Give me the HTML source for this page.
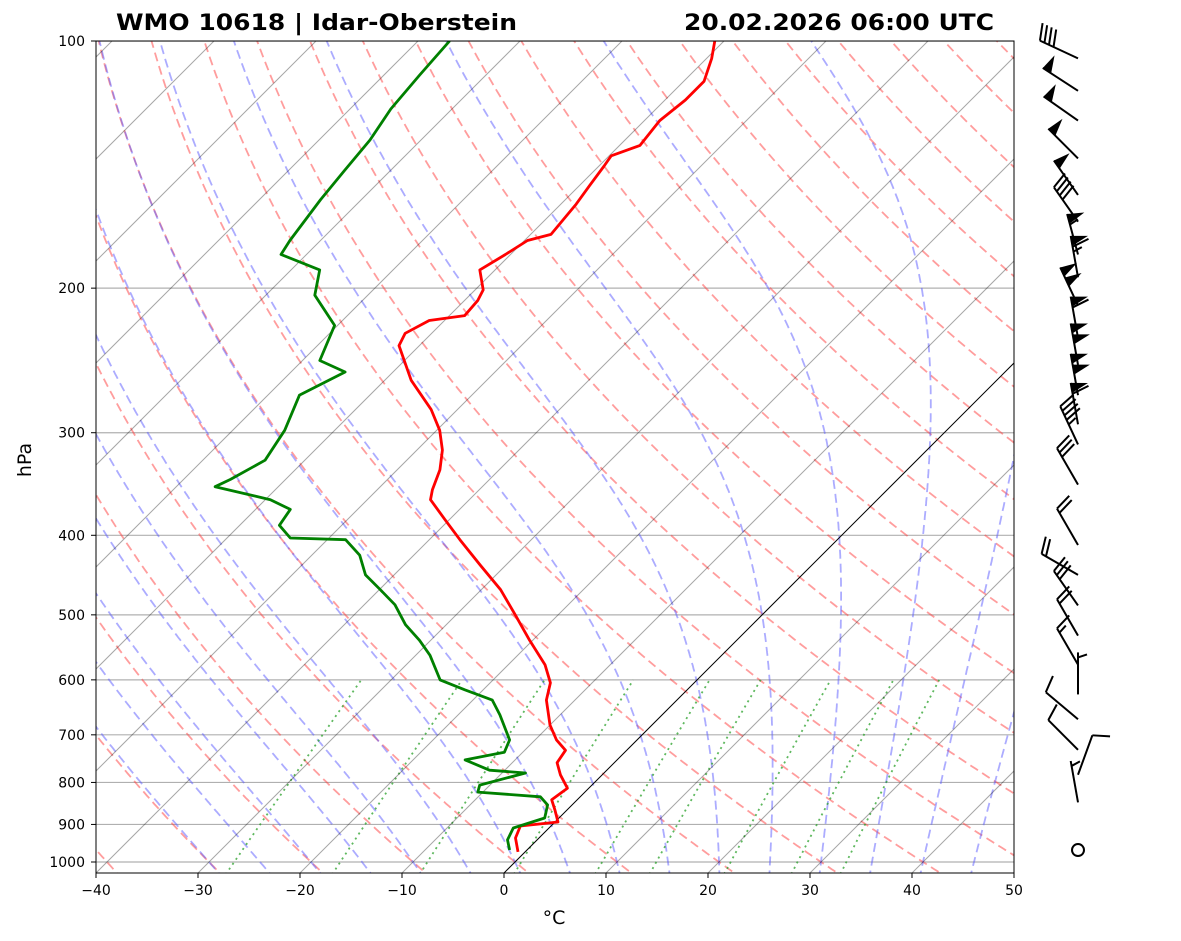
<!DOCTYPE html>
<html><head><meta charset="utf-8"><style>
body{margin:0;background:#fff;}
svg{display:block;font-family:"DejaVu Sans","Liberation Sans",sans-serif;}
</style></head><body>
<svg id="chart" width="1181" height="941" viewBox="0 0 1181 941" xmlns="http://www.w3.org/2000/svg">
<defs><clipPath id="clip"><rect x="96" y="41" width="918" height="832"/></clipPath></defs>
<rect width="1181" height="941" fill="#fff"/>
<text x="116" y="30" font-size="22" font-weight="bold" textLength="401" lengthAdjust="spacingAndGlyphs">WMO 10618 | Idar-Oberstein</text>
<text x="684" y="30" font-size="22" font-weight="bold" textLength="310" lengthAdjust="spacingAndGlyphs">20.02.2026 06:00 UTC</text>
<g id="bg" clip-path="url(#clip)"></g>
<g id="prof" clip-path="url(#clip)"></g>
<rect x="96" y="41" width="918" height="832" fill="none" stroke="#000" stroke-width="1"/>
<g id="axes"></g>
<g id="barbs"></g>
<text x="0" y="0" font-size="19" text-anchor="middle" transform="translate(31,460) rotate(-90)">hPa</text>
<text x="554" y="924" font-size="19" text-anchor="middle">°C</text>
</svg>
<script>
const tempP=[972,935,904,894,864,840,813,783,757,731,710,681,635,605,575,537,500,466,435,405,383,362,352,333,315,298,281,259,235,227,219,216,207,201,190,182,175,172,158,150,142,138,134,125,118,112,105,100];
const tempT=[-0.7,-2.3,-3.0,0.3,-1.2,-2.5,-2.1,-4.1,-5.6,-6.0,-7.9,-10,-12.8,-14.1,-16.4,-20.3,-24.2,-28.1,-32.5,-37,-40.4,-43.8,-44.6,-45.8,-47.5,-49.7,-52.6,-57.4,-62,-62.6,-61.5,-58.5,-58.7,-59.2,-61.5,-60.5,-59.7,-58,-58.5,-59,-59.5,-59.8,-58,-58.5,-58,-58,-59.5,-60.9];
const dewP=[967,940,909,884,852,833,822,806,779,773,751,735,710,662,635,617,600,560,537,514,486,466,447,423,405,403,389,372,362,349,342,324,298,270,253,245,222,204,190,182,175,156,144,132,121,110,100];
const dewT=[-1.7,-2.9,-3.5,-1.4,-2.4,-3.9,-10.5,-11,-7.7,-11.5,-14.9,-11.8,-12.5,-15.9,-18.1,-21.8,-25.2,-28.6,-31.1,-34,-37,-39.9,-42.8,-45.3,-48.2,-53.8,-56.1,-56.6,-59.5,-66.2,-65.4,-63.9,-64.9,-66.9,-64.7,-68.3,-70.3,-75.2,-77.2,-82.5,-83,-84,-84.5,-85,-86,-86.5,-86.9];
const barbP=[105,115,125,139,154,166,182,194,210,230,248,270,293,310,347,411,447,487,530,575,625,670,730,783,846,967];
const barbDir=[295,303,305,315,325,325,345,350,335,350,350,350,350,335,330,330,300,325,330,330,0,310,315,20,350,0];
const barbSpd=[40,50,50,50,50,40,55,65,100,60,100,100,60,45,30,20,20,30,20,15,5,10,10,10,5,0];
const pTicks=[100,200,300,400,500,600,700,800,900,1000];
const tTicks=[-40,-30,-20,-10,0,10,20,30,40,50];

const NS='http://www.w3.org/2000/svg';
function yP(p){return 41+Math.log10(p/100)*821;}
function xT(T,p){return 96+(T+40)*10.2+(873-yP(p));}
function mk(parent,tag,attrs){const e=document.createElementNS(NS,tag);for(const k in attrs)e.setAttribute(k,attrs[k]);parent.appendChild(e);return e;}
const bg=document.getElementById('bg'),prof=document.getElementById('prof'),axes=document.getElementById('axes'),barbs=document.getElementById('barbs');
function poly(parent,pts,stroke,w,dash,name){
  const e=mk(parent,'polyline',{points:pts.map(q=>q[0].toFixed(1)+','+q[1].toFixed(1)).join(' '),fill:'none',stroke:stroke,'stroke-width':w,'stroke-linejoin':'round'});
  if(dash)e.setAttribute('stroke-dasharray',dash);
  
  
  return e;
}
const plev=[];for(let p=1050;p>=95;p-=5)plev.push(p);
pTicks.forEach(p=>{const l=mk(bg,'line',{x1:96,x2:1014,y1:yP(p),y2:yP(p),stroke:'#b0b0b0','stroke-width':1.2});
});
for(let th=-40;th<=220;th+=10){const pts=plev.map(p=>[xT((th+273.15)*Math.pow(p/1000,0.2857)-273.15,p),yP(p)]);poly(bg,pts,'rgba(255,60,60,0.5)',1.8,'9,5','dry-adiabat');}
function es(T){return 6.112*Math.exp(17.67*T/(T+243.5));}
function dTdp(T,p){const Tk=T+273.15,r=0.622*es(T)/(p-es(T));return (287*Tk+2.501e6*r)/(1004+2.501e6*2.501e6*r*0.622/(287*Tk*Tk))/p;}
for(let T0=-30;T0<=45;T0+=5){
  const pts=[];let T=T0;
  let Td=T0;const dn=[];for(let p=1000;p<=1050;p+=5){dn.push([xT(Td,p),yP(p)]);Td+=dTdp(Td,p)*5;}
  dn.reverse();pts.push(...dn);
  for(let p=1000;p>=95;p-=2){pts.push([xT(T,p),yP(p)]);T-=dTdp(T,p)*2;}
  poly(bg,pts,'rgba(90,90,255,0.5)',1.8,'9,5','moist-adiabat');
}
[0.4,1,2,4,7,10,16,24,32].forEach(w=>{const pts=[];for(let p=1050;p>=600;p-=10){const e=w*p/(622+w),l=Math.log(e/6.112);const T=243.5*l/(17.67-l);pts.push([xT(T,p),yP(p)]);}
poly(bg,pts,'rgba(40,160,40,0.75)',1.8,'2,4','mixing-ratio-line');});
for(let T=-130;T<=50;T+=10){const l=mk(bg,'line',{x1:xT(T,1050),y1:yP(1050),x2:xT(T,95),y2:yP(95),stroke:T==0?'#000':'rgba(0,0,0,0.35)','stroke-width':1});
}
poly(prof,tempP.map((p,i)=>[xT(tempT[i],p),yP(p)]),'#f00',2.8,null,'temperature-profile');
poly(prof,dewP.map((p,i)=>[xT(dewT[i],p),yP(p)]),'#008000',2.8,null,'dewpoint-profile');
pTicks.forEach(p=>{const y=yP(p);mk(axes,'line',{x1:91,x2:96,y1:y,y2:y,stroke:'#000'});
const t=mk(axes,'text',{x:85,y:y+5,'font-size':14,'text-anchor':'end'});t.textContent=p;
});
tTicks.forEach(T=>{const x=96+(T+40)*10.2;mk(axes,'line',{x1:x,x2:x,y1:873,y2:878,stroke:'#000'});
const t=mk(axes,'text',{x:x,y:895,'font-size':14,'text-anchor':'middle'});t.textContent=(T<0?'\u2212'+(-T):T);
});
barbP.forEach((p,i)=>{
  const bx=1078,by=yP(p),s=barbSpd[i];
  const g=mk(barbs,'g',{});
  
  
  if(s<2.5){mk(g,'circle',{cx:bx,cy:by,r:6,fill:'none',stroke:'#000','stroke-width':2});return;}
  const a=barbDir[i]*Math.PI/180,dx=Math.sin(a),dy=-Math.cos(a),L=42;
  const tx=bx+dx*L,ty=by+dy*L;
  mk(g,'line',{x1:bx,y1:by,x2:tx,y2:ty,stroke:'#000','stroke-width':2});
  const px=-dy,py=dx;let rem=Math.round(s/5)*5,pos=0;
  while(rem>=50){const x0=tx-dx*pos,y0=ty-dy*pos,x1=tx-dx*(pos+10),y1=ty-dy*(pos+10);
    mk(g,'polygon',{points:`${x0},${y0} ${x0+px*17-dx*3},${y0+py*17-dy*3} ${x1},${y1}`,fill:'#000'});pos+=11;rem-=50;}
  while(rem>=10){const x0=tx-dx*pos,y0=ty-dy*pos;mk(g,'line',{x1:x0,y1:y0,x2:x0+px*17+dx*5,y2:y0+py*17+dy*5,stroke:'#000','stroke-width':2});pos+=5;rem-=10;}
  if(rem>=5){if(pos==0)pos=5;const x0=tx-dx*pos,y0=ty-dy*pos;mk(g,'line',{x1:x0,y1:y0,x2:x0+px*9+dx*3,y2:y0+py*9+dy*3,stroke:'#000','stroke-width':2});}
});
</script>
</body></html>
